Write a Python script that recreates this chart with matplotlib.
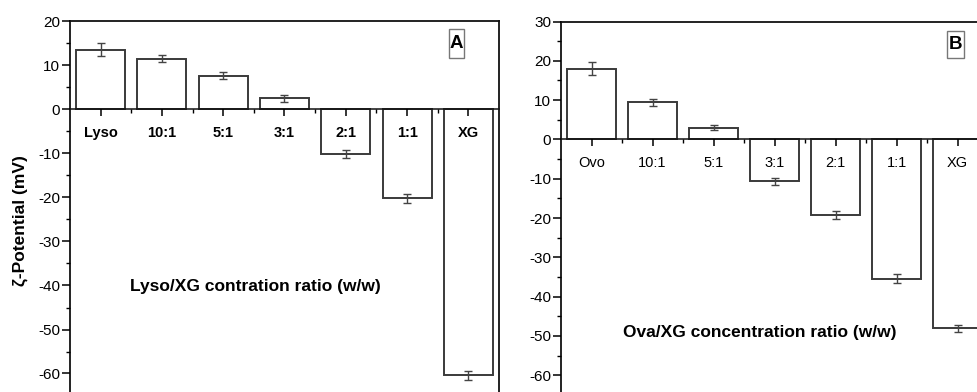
import numpy as np
import matplotlib.pyplot as plt
from matplotlib.patches import Rectangle
from matplotlib.ticker import MultipleLocator, FixedLocator

plt.rcParams['font.family'] = ['Liberation Sans', 'DejaVu Sans']
plt.rcParams['axes.unicode_minus'] = False

# Zeta potential, panel A (lysozyme / xanthan gum)
labels_a = ['Lyso', '10:1', '5:1', '3:1', '2:1', '1:1', 'XG']
zeta_a = [13.6, 11.5, 7.7, 2.5, -10.2, -20.2, -60.4]
err_a = [1.5, 0.8, 0.8, 0.8, 0.9, 1.0, 1.0]

# Zeta potential, panel B (ovalbumin / xanthan gum)
labels_b = ['Ovo', '10:1', '5:1', '3:1', '2:1', '1:1', 'XG']
zeta_b = [18.0, 9.4, 3.0, -10.7, -19.3, -35.4, -48.1]
err_b = [1.6, 1.0, 0.65, 0.8, 1.05, 1.2, 0.9]

W, H = 978, 392
fig = plt.figure(figsize=(W / 100, H / 100), dpi=100)
fig.patch.set_facecolor('white')


def px_axes(left, right, top, bottom):
    return fig.add_axes([left / W, 1 - bottom / H, (right - left) / W, (bottom - top) / H])


def draw_panel(ax, labels, vals, errs, ylim, bold):
    x = np.arange(1, len(vals) + 1)
    ax.bar(x, vals, width=0.8, color='white', edgecolor='#3a3a3a', linewidth=1.4, zorder=2)
    ax.errorbar(x, vals, yerr=errs, fmt='none', ecolor='#444444', elinewidth=1.0,
                capsize=3, capthick=1.0, zorder=3)
    ax.set_axisbelow(False)
    ax.spines['bottom'].set_position(('data', 0))
    for s in ax.spines.values():
        s.set_linewidth(1.3)
        s.set_color('#111111')
    ax.spines['bottom'].set_linewidth(1.1)
    ax.yaxis.set_major_locator(MultipleLocator(10))
    ax.yaxis.set_minor_locator(MultipleLocator(5))
    ax.tick_params(axis='y', which='major', direction='out', length=5.5, width=1.1,
                   labelsize=11, pad=1.5, right=False)
    ax.tick_params(axis='y', which='minor', direction='out', length=2.8, width=1.0, right=False)
    ax.set_xticks(x)
    ax.xaxis.set_minor_locator(FixedLocator(x[:-1] + 0.5))
    ax.set_xticklabels(labels, fontsize=10.5, fontweight='bold' if bold else 'normal')
    ax.tick_params(axis='x', which='major', direction='out', length=5, width=1.1, pad=7, top=False)
    ax.tick_params(axis='x', which='minor', direction='out', length=3.2, width=1.0, top=False)
    ax.set_xlim(0.5, len(vals) + 0.5)
    ax.set_ylim(*ylim)


def panel_tag(ax, letter, x0, x1, y0, y1):
    ax.add_patch(Rectangle((x0, y0), x1 - x0, y1 - y0, facecolor='white',
                           edgecolor='#777777', linewidth=1.0, zorder=4))
    ax.text((x0 + x1) / 2, (y0 + y1) / 2, letter, ha='center', va='center',
            fontsize=13.5, fontweight='bold', zorder=5)


# panel A
ax_a = px_axes(70, 499, 21.5, 21.5 + 86 * 4.4)
draw_panel(ax_a, labels_a, zeta_a, err_a, (-66, 20), True)
ax_a.text(3.53, -40.2, 'Lyso/XG contration ratio (w/w)', ha='center', va='center',
          fontsize=12.5, fontweight='bold')
panel_tag(ax_a, 'A', 6.68, 6.93, 11.8, 18.4)

# panel B
ax_b = px_axes(561, 988, 21.5, 21.5 + 96 * 3.93)
draw_panel(ax_b, labels_b, zeta_b, err_b, (-66, 30), False)
ax_b.text(3.76, -49.1, 'Ova/XG concentration ratio (w/w)', ha='center', va='center',
          fontsize=12.5, fontweight='bold')
panel_tag(ax_b, 'B', 6.83, 7.11, 20.6, 27.6)

fig.text(20 / W, 1 - 221 / H, 'ζ-Potential (mV)', rotation=90, ha='center', va='center',
         fontsize=12.5, fontweight='bold')

fig.savefig('out.png', dpi=100)
